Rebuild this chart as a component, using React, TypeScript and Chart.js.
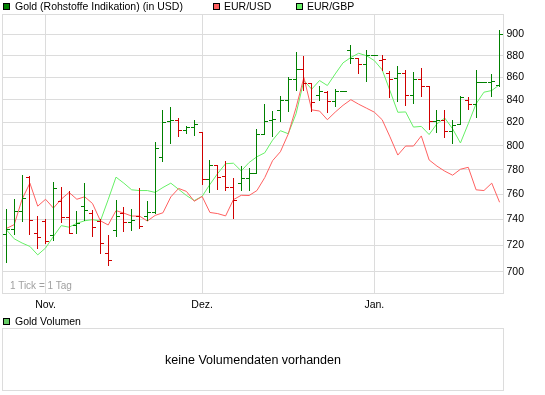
import React, { useEffect, useRef } from 'react';
import { Chart, registerables } from 'chart.js';

Chart.register(...registerables);

// ---- data (one entry per trading day) ----
const OPEN = [728.4, 732.2, 746.9, 773.9, 729.6, 739, 728.3, 754.4, 742.2, 736, 750.3, 744.8, 738.7, 714, 731.9, 745, 738.2, 742.7, 742.7, 746.1, 790.2, 820.9, 821.8, 813.9, 815.8, 811.5, 772.3, 783.8, 775.2, 765.8, 769, 773, 777.2, 810.3, 822, 831.1, 839.9, 858.8, 867.7, 855.2, 844.4, 847.1, 839, 848, 885, 877.7, 872.4, 880.6, 876.2, 863.8, 859.7, 864.1, 844.6, 858.2, 852.1, 820.9, 821.8, 812.6, 818.3, 839.3, 836.3, 856.1, 856, 853.5];
const HIGH = [748.4, 756.3, 775.8, 775, 742.7, 740.3, 769.9, 765.5, 762.3, 746.6, 769.1, 747.4, 740, 728, 755.7, 750, 747.9, 765, 754.6, 803.4, 830.5, 833.4, 824.1, 816.6, 821.8, 811.5, 788.4, 783.8, 787.3, 773.3, 783.4, 781.7, 814.5, 835.8, 829.9, 843.7, 860.8, 883.9, 879.3, 855.2, 852.7, 848.2, 849.4, 848, 889.6, 877.7, 885.5, 880.6, 881.1, 866.3, 870.9, 867, 865.4, 868.8, 852.1, 831.1, 830.5, 821.8, 843.4, 842.8, 867.2, 856.1, 863.3, 904.5];
const LOW = [707.8, 728.8, 738.8, 728.5, 718.1, 722, 724, 738.4, 729.3, 729.3, 739.6, 727.5, 714, 705, 727.5, 731.3, 732, 733, 739.6, 745.3, 787.5, 802.6, 808.2, 810.9, 809.3, 768.3, 761.5, 764.1, 763.6, 740.9, 763.6, 763.1, 777.2, 810.3, 808.2, 821.2, 829.9, 848.8, 848.8, 829.9, 839.9, 829.4, 834, 848, 873, 863.8, 856.6, 880.6, 866.8, 842.8, 838.7, 834.9, 837, 843.7, 814.7, 812.1, 807.1, 802.4, 818.3, 831.7, 824.7, 856.1, 843.4, 852.4];
const CLOSE = [732.2, 746.9, 757.1, 739.9, 726.1, 723.3, 765, 742.2, 729.6, 737, 747.7, 734, 721.5, 709, 743, 738, 739.5, 735.2, 746.1, 797.8, 820.5, 822, 813.9, 815.8, 818.3, 772.3, 783.8, 773.9, 765.8, 755.7, 773.2, 777.2, 810.3, 821.5, 823, 839.9, 858.8, 867.7, 855.2, 838.4, 847.6, 839, 848, 848, 877.5, 872.4, 880.6, 880.6, 877.1, 858.8, 864.1, 844.6, 858.8, 852.7, 820.9, 821.8, 812.6, 817.5, 842.8, 836.3, 856.1, 856.1, 857, 900.6];
const EUR_USD = [733, 736, 756, 769, 750.5, 756, 749, 756, 761.5, 756, 758, 752.6, 739, 735.7, 747, 745, 742.7, 742.7, 738.8, 743.2, 745.3, 757.9, 764.7, 762.3, 754.4, 758.3, 745.5, 744.6, 742.8, 755.7, 759.2, 759, 763, 773.5, 787.5, 795, 810, 833, 860, 831, 830, 822.4, 829, 835, 840, 836, 832.5, 829, 822.4, 807.6, 792.2, 799.8, 799.8, 808.4, 788.1, 783, 778.8, 775.5, 780.4, 782, 763.6, 763, 769, 753.6];
const EUR_GBP = [732, 725, 721.8, 719.2, 712.8, 718, 726.8, 735.2, 734, 737, 739, 739.9, 738.7, 755.7, 773.9, 769, 763.6, 763, 763, 761.5, 765.5, 769, 764, 759, 755, 758.3, 768, 777, 785, 785.4, 779, 786, 790.8, 794.1, 804.8, 812.9, 810.3, 827.6, 857.2, 849.4, 857.2, 852.7, 863.2, 873.4, 878.4, 882.3, 880, 875.5, 867, 848, 828.9, 829.2, 816, 816.6, 809.6, 818.9, 823.8, 814.5, 802.4, 818.9, 836.4, 846.7, 848.2, 853.5];

const X_TICK_INDEX = [5, 25, 47];
const X_TICK_LABELS = ['Nov.', 'Dez.', 'Jan.'];
const Y_TICKS = [700, 720, 740, 760, 780, 800, 820, 840, 860, 880, 900];
const Y_MIN = 684.25;
const Y_MAX = 919.25;

const SERIES_NAMES = ['Gold (Rohstoffe Indikation) (in USD)', 'EUR/USD', 'EUR/GBP'];

const GREEN = '#008000';
const RED = '#d00000';
const USD_COLOR = '#ff6060';
const GBP_COLOR = '#66f066';
const GRID = '#dcdcdc';
const FONT = '"Liberation Sans", Arial, Helvetica, sans-serif';

const LABELS = OPEN.map((_, i) => {
  const k = X_TICK_INDEX.indexOf(i);
  return k >= 0 ? X_TICK_LABELS[k] : '';
});

const barColor = (i: number) => {
  const ref = i === 0 ? OPEN[0] : CLOSE[i - 1];
  return CLOSE[i] >= ref ? GREEN : RED;
};

const framePlugin = {
  id: 'frame',
  beforeDatasetsDraw(chart: any) {
    const { ctx, chartArea: a } = chart;
    ctx.save();
    ctx.strokeStyle = GRID;
    ctx.lineWidth = 1;
    ctx.strokeRect(a.left, a.top, a.right - a.left, a.bottom - a.top);
    ctx.restore();
  },
};

const ohlcPlugin = {
  id: 'ohlc',
  afterDatasetsDraw(chart: any) {
    const { ctx, chartArea: a } = chart;
    const xs = chart.scales.x;
    const ys = chart.scales.y;
    ctx.save();
    ctx.beginPath();
    ctx.rect(a.left, a.top, a.right - a.left, a.bottom - a.top);
    ctx.clip();
    for (let i = 0; i < OPEN.length; i++) {
      const px = Math.round(xs.getPixelForValue(i) - 0.5);
      ctx.fillStyle = barColor(i);
      const yh = Math.round(ys.getPixelForValue(HIGH[i]));
      const yl = Math.round(ys.getPixelForValue(LOW[i]));
      ctx.fillRect(px, yh, 1, Math.max(1, yl - yh + 1));
      const yo = Math.round(ys.getPixelForValue(OPEN[i]));
      ctx.fillRect(px - 3, yo, 3, 1);
      const yc = Math.round(ys.getPixelForValue(CLOSE[i]));
      ctx.fillRect(px + 1, yc, 3, 1);
    }
    ctx.restore();
  },
};

function LegendBox({ color, left, top }: { color: string; left: number; top: number }) {
  return (
    <div
      style={{
        position: 'absolute',
        left,
        top,
        width: 7,
        height: 7,
        boxSizing: 'border-box',
        border: '1px solid #000',
        background: color,
      }}
    />
  );
}

function Text({ children, left, top, size, color = '#000' }: any) {
  return (
    <div
      style={{
        position: 'absolute',
        left,
        top,
        fontSize: size,
        lineHeight: '12px',
        whiteSpace: 'nowrap',
        color,
      }}
    >
      {children}
    </div>
  );
}

export default function App() {
  const ref = useRef<HTMLCanvasElement>(null);

  useEffect(() => {
    const chart = new Chart(ref.current as HTMLCanvasElement, {
      type: 'line',
      data: {
        labels: LABELS,
        datasets: [
          {
            label: SERIES_NAMES[1],
            data: EUR_USD,
            borderColor: USD_COLOR,
            borderWidth: 1,
            pointRadius: 0,
            tension: 0,
            fill: false,
          },
          {
            label: SERIES_NAMES[2],
            data: EUR_GBP,
            borderColor: GBP_COLOR,
            borderWidth: 1,
            pointRadius: 0,
            tension: 0,
            fill: false,
          },
        ],
      },
      options: {
        responsive: false,
        maintainAspectRatio: false,
        animation: false,
        devicePixelRatio: 1,
        layout: { padding: { left: 2.5, top: 14.5, right: 0, bottom: 0 } },
        plugins: { legend: { display: false }, tooltip: { enabled: false } },
        scales: {
          x: {
            type: 'category',
            offset: true,
            grid: {
              offset: false,
              drawTicks: false,
              lineWidth: 1,
              color: (c: any) => (LABELS[c.index] ? GRID : 'rgba(0,0,0,0)'),
            },
            border: { display: false },
            ticks: {
              autoSkip: false,
              maxRotation: 0,
              minRotation: 0,
              padding: 5,
              color: '#000',
              font: { family: FONT, size: 10.5 },
            },
            afterFit: (s: any) => {
              s.height = 26.5;
            },
          },
          y: {
            type: 'logarithmic',
            position: 'right',
            min: Y_MIN,
            max: Y_MAX,
            bounds: 'data',
            afterBuildTicks: (s: any) => {
              s.ticks = Y_TICKS.map((v) => ({ value: v }));
            },
            grid: { drawTicks: false, color: GRID, lineWidth: 1 },
            border: { display: false },
            ticks: {
              padding: 3,
              color: '#000',
              font: { family: FONT, size: 10.5 },
              callback: (v: any) => String(v),
            },
            afterFit: (s: any) => {
              s.width = 41.5;
            },
          },
        },
      } as any,
      plugins: [framePlugin, ohlcPlugin],
    });
    return () => chart.destroy();
  }, []);

  return (
    <div
      style={{
        position: 'absolute',
        left: 0,
        top: 0,
        width: 545,
        height: 395,
        overflow: 'hidden',
        background: '#fff',
        fontFamily: FONT,
        color: '#000',
      }}
    >
      <canvas
        ref={ref}
        width={545}
        height={320}
        style={{ position: 'absolute', left: 0, top: 0, width: 545, height: 320 }}
      />
      <LegendBox color={GREEN} left={3} top={3} />
      <Text left={15} top={0} size={10.5}>{SERIES_NAMES[0]}</Text>
      <LegendBox color={USD_COLOR} left={213} top={3} />
      <Text left={224} top={0} size={10.5}>{SERIES_NAMES[1]}</Text>
      <LegendBox color={GBP_COLOR} left={296} top={3} />
      <Text left={307} top={0} size={10.5}>{SERIES_NAMES[2]}</Text>
      <Text left={10} top={279.5} size={10} color="#a0a0a0">1 Tick = 1 Tag</Text>
      <LegendBox color="#66cc66" left={3} top={318} />
      <Text left={15} top={315} size={10.5}>Gold Volumen</Text>
      <div
        style={{
          position: 'absolute',
          left: 2,
          top: 328,
          width: 502,
          height: 63,
          boxSizing: 'border-box',
          border: `1px solid ${GRID}`,
          display: 'flex',
          alignItems: 'center',
          justifyContent: 'center',
          fontSize: 12.5,
        }}
      >
        keine Volumendaten vorhanden
      </div>
    </div>
  );
}
